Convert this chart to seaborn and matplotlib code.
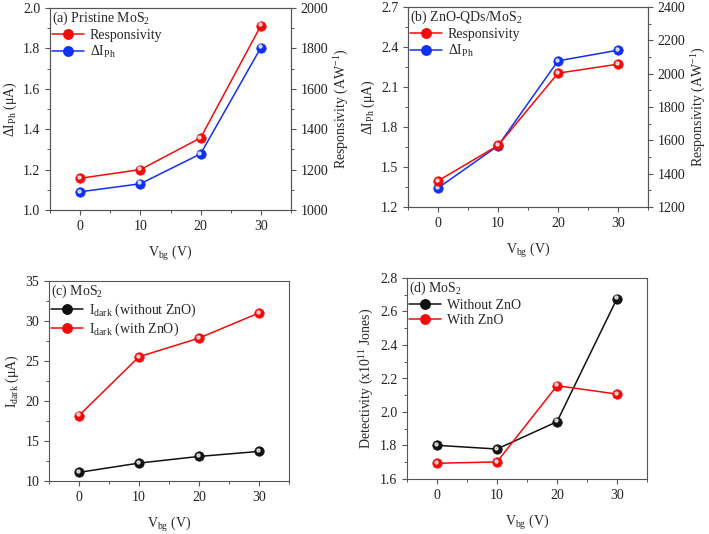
import numpy as np
import matplotlib
matplotlib.use("Agg")
import matplotlib.pyplot as plt
import matplotlib.transforms as mtransforms
from matplotlib.ticker import MultipleLocator
from matplotlib.lines import Line2D
import seaborn as sns

vbg = [0, 10, 20, 30]

# (a) pristine MoS2
a_resp = [1157, 1200, 1357, 1913]
a_dIph = [1.09, 1.13, 1.278, 1.804]

# (b) ZnO-QDs/MoS2
b_resp = [1357, 1569, 2003, 2057]
b_dIph = [1.342, 1.659, 2.296, 2.376]

# (c) dark current
c_without = [11.08, 12.24, 13.07, 13.70]
c_with = [18.18, 25.53, 27.86, 31.01]

# (d) detectivity
d_without = [1.801, 1.779, 1.942, 2.677]
d_with = [1.694, 1.702, 2.157, 2.107]

RED = "#f50a0a"
BLUE = "#1030f5"
BLACK = "#111111"
FS = 10

sns.set_style("ticks")
plt.rcParams['font.family'] = ['Liberation Serif', 'DejaVu Serif']
plt.rcParams['mathtext.default'] = 'regular'
plt.rcParams['font.size'] = FS
plt.rcParams['axes.linewidth'] = 0.8
plt.rcParams['axes.edgecolor'] = '#555555'
plt.rcParams['xtick.color'] = '#555555'
plt.rcParams['ytick.color'] = '#555555'
plt.rcParams['xtick.labelcolor'] = '#222222'
plt.rcParams['ytick.labelcolor'] = '#222222'
plt.rcParams['xtick.direction'] = 'out'
plt.rcParams['ytick.direction'] = 'out'

fig = plt.figure(figsize=(7.09, 5.34), dpi=100)


def px_axes(left, top, right, bottom):
    W, H = 709, 534
    return fig.add_axes([left / W, (H - bottom) / H, (right - left) / W, (bottom - top) / H])


def ball(ax, x, y, color, label):
    sns.lineplot(x=x, y=y, ax=ax, color=color, marker='o', markersize=6.8,
                 markeredgecolor=color, markeredgewidth=0.5, linewidth=1.1,
                 label=label, legend=False)
    # small highlight to mimic the shaded spheres
    off = mtransforms.offset_copy(ax.transData, fig=fig, x=-0.9, y=0.9, units='points')
    ax.plot(x, y, linestyle='none', marker='o', markersize=2.2, color='white',
            alpha=0.7, transform=off, zorder=5)
    return Line2D([], [], color=color, marker='o', markersize=6.8, linewidth=1.1,
                  markeredgecolor=color)


def style_x(ax):
    ax.set_xlim(-5, 35)
    ax.xaxis.set_major_locator(MultipleLocator(10))
    ax.xaxis.set_minor_locator(MultipleLocator(5))
    ax.set_xlabel("V$_{bg}$ (V)", fontsize=FS, labelpad=8)
    ax.tick_params(which='major', length=3.5, width=0.8, labelsize=FS)
    ax.tick_params(which='minor', length=2, width=0.7)
    for s in ax.spines.values():
        s.set_visible(True)


def style_right(ax2):
    ax2.tick_params(which='major', length=3.5, width=0.8, labelsize=FS)
    ax2.tick_params(which='minor', length=2, width=0.7)


def leg(ax, handles, labels, title):
    lg = ax.legend(handles, labels, title=title, loc='upper left', frameon=False,
                   fontsize=FS, title_fontsize=FS, handlelength=2.3,
                   borderaxespad=0.0, borderpad=0.15, labelspacing=0.12,
                   handletextpad=0.4)
    lg._legend_box.align = 'left'
    return lg


# ---- (a)
ax = px_axes(50, 8, 291, 210)
ax2 = ax.twinx()
hb = ball(ax, vbg, a_dIph, BLUE, "dI")
hr = ball(ax2, vbg, a_resp, RED, "R")
ax.set_ylim(1.0, 2.0)
ax2.set_ylim(1000, 2000)
ax.yaxis.set_major_locator(MultipleLocator(0.2))
ax.yaxis.set_minor_locator(MultipleLocator(0.1))
ax2.yaxis.set_major_locator(MultipleLocator(200))
ax2.yaxis.set_minor_locator(MultipleLocator(100))
ax.set_ylabel("ΔI$_{Ph}$ (μA)", fontsize=FS, labelpad=3)
ax2.set_ylabel("Responsivity (AW$^{-1}$)", fontsize=FS, labelpad=3)
style_x(ax)
style_right(ax2)
leg(ax2, [hr, hb], ["Responsivity", "ΔI$_{Ph}$"], "(a) Pristine MoS$_2$")

# ---- (b)
ax = px_axes(408, 7, 648, 207)
ax2 = ax.twinx()
hb = ball(ax, vbg, b_dIph, BLUE, "dI")
hr = ball(ax2, vbg, b_resp, RED, "R")
ax.set_ylim(1.2, 2.7)
ax2.set_ylim(1200, 2400)
ax.yaxis.set_major_locator(MultipleLocator(0.3))
ax.yaxis.set_minor_locator(MultipleLocator(0.15))
ax2.yaxis.set_major_locator(MultipleLocator(200))
ax2.yaxis.set_minor_locator(MultipleLocator(100))
ax.set_ylabel("ΔI$_{Ph}$ (μA)", fontsize=FS, labelpad=3)
ax2.set_ylabel("Responsivity (AW$^{-1}$)", fontsize=FS, labelpad=3)
style_x(ax)
style_right(ax2)
leg(ax2, [hr, hb], ["Responsivity", "ΔI$_{Ph}$"], "(b) ZnO-QDs/MoS$_2$")

# ---- (c)
ax = px_axes(49, 281, 289, 481)
hk = ball(ax, vbg, c_without, BLACK, "without")
hr = ball(ax, vbg, c_with, RED, "with")
ax.set_ylim(10, 35)
ax.yaxis.set_major_locator(MultipleLocator(5))
ax.yaxis.set_minor_locator(MultipleLocator(2.5))
ax.set_ylabel("I$_{dark}$ (μA)", fontsize=FS, labelpad=3)
style_x(ax)
leg(ax, [hk, hr], ["I$_{dark}$ (without ZnO)", "I$_{dark}$ (with ZnO)"], "(c) MoS$_2$")

# ---- (d)
ax = px_axes(407, 278, 647, 479)
hk = ball(ax, vbg, d_without, BLACK, "without")
hr = ball(ax, vbg, d_with, RED, "with")
ax.set_ylim(1.6, 2.8)
ax.yaxis.set_major_locator(MultipleLocator(0.2))
ax.yaxis.set_minor_locator(MultipleLocator(0.1))
ax.set_ylabel("Detectivity (x10$^{11}$ Jones)", fontsize=FS, labelpad=3)
style_x(ax)
leg(ax, [hk, hr], ["Without ZnO", "With ZnO"], "(d) MoS$_2$")

fig.savefig("out.png", dpi=100)
